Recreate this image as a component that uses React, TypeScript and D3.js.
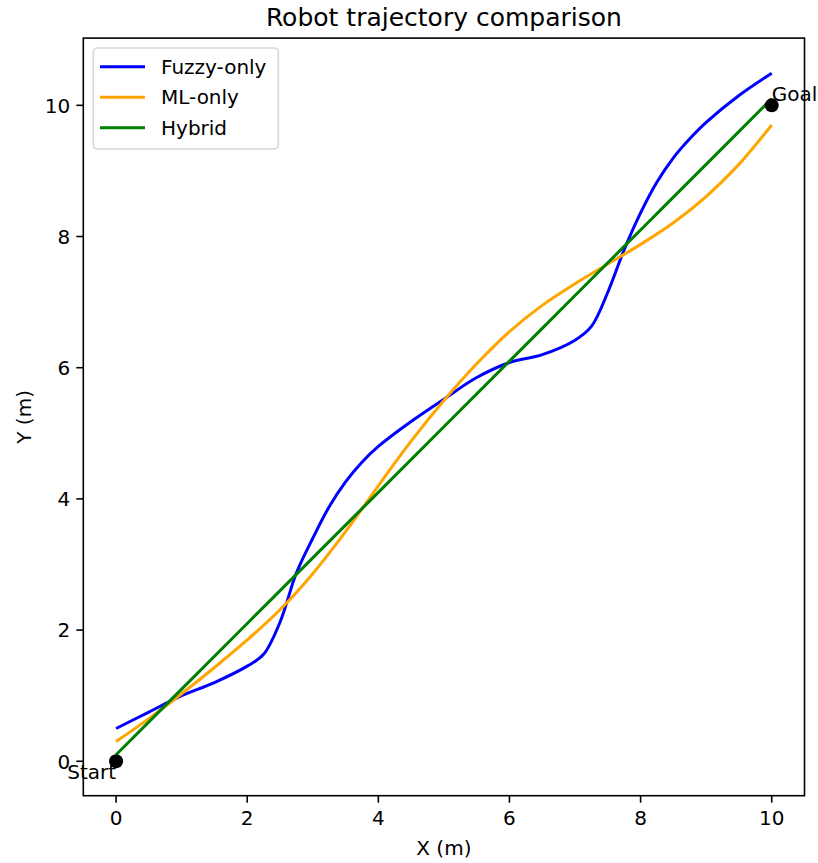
import React from 'react';
import * as d3 from 'd3';

const W = 818;
const H = 863;

const fuzzyX = [0, 0.5, 1, 1.5, 2, 2.25, 2.5, 2.75, 3, 3.25, 3.5, 3.75, 4, 4.5, 5, 5.5, 6, 6.5, 7, 7.25, 7.5, 7.75, 8, 8.25, 8.5, 8.75, 9, 9.5, 10];
const fuzzyY = [0.5, 0.75, 1.0, 1.2, 1.45, 1.63, 2.12, 2.87, 3.4, 3.88, 4.26, 4.56, 4.8, 5.18, 5.52, 5.85, 6.08, 6.2, 6.42, 6.63, 7.15, 7.8, 8.36, 8.83, 9.2, 9.49, 9.74, 10.15, 10.49];

const mlX = [0, 0.5, 1, 1.5, 2, 2.5, 3, 3.5, 4, 4.5, 5, 5.5, 6, 6.5, 7, 7.5, 8, 8.5, 9, 9.5, 10];
const mlY = [0.3, 0.65, 1.03, 1.43, 1.85, 2.31, 2.86, 3.5, 4.2, 4.88, 5.5, 6.06, 6.55, 6.95, 7.28, 7.58, 7.88, 8.21, 8.61, 9.1, 9.7];

const hybridX = [0, 1, 2, 3, 4, 5, 6, 7, 8, 9, 10];
const hybridY = [0.1, 1.1, 2.1, 3.1, 4.1, 5.1, 6.1, 7.1, 8.1, 9.1, 10.1];

const seriesNames = ['Fuzzy-only', 'ML-only', 'Hybrid'];
const seriesColors = ['#0000ff', '#ffa500', '#008000'];

const xTicks = [0, 2, 4, 6, 8, 10];
const yTicks = [0, 2, 4, 6, 8, 10];

const markerNames = ['Start', 'Goal'];
const markerX = [0, 10];
const markerY = [0, 10];

const FONT = 'DejaVu Sans, sans-serif';

export default function App() {
  const left = 83.3, right = 804.5, top = 38.1, bottom = 795.7;
  const x = d3.scaleLinear().domain([-0.5, 10.5]).range([left, right]);
  const y = d3.scaleLinear().domain([-0.525, 11.025]).range([bottom, top]);

  const line = d3
    .line<[number, number]>()
    .x((d) => x(d[0]))
    .y((d) => y(d[1]))
    .curve(d3.curveCatmullRom.alpha(0.5));

  const series = [
    fuzzyX.map((v, i) => [v, fuzzyY[i]] as [number, number]),
    mlX.map((v, i) => [v, mlY[i]] as [number, number]),
    hybridX.map((v, i) => [v, hybridY[i]] as [number, number]),
  ];

  const legX = 93.3, legY = 48, legW = 185, legH = 101;

  return (
    <svg
      width={W}
      height={H}
      viewBox={`0 0 ${W} ${H}`}
      style={{ position: 'absolute', left: 0, top: 0, background: '#fff', display: 'block' }}
      fontFamily={FONT}
    >
      <rect x={0} y={0} width={W} height={H} fill="#fff" />
      {series.map((pts, i) => (
        <path
          key={seriesNames[i]}
          d={line(pts) || ''}
          fill="none"
          stroke={seriesColors[i]}
          strokeWidth={3}
          strokeLinecap="butt"
        />
      ))}
      {markerNames.map((n, i) => (
        <circle key={n} cx={x(markerX[i])} cy={y(markerY[i])} r={7} fill="#000" />
      ))}
      <text x={x(markerX[0])} y={y(markerY[0]) + 17.7} fontSize={20} textAnchor="end" fill="#000">
        {markerNames[0]}
      </text>
      <text x={x(markerX[1])} y={y(markerY[1]) - 4.7} fontSize={20} textAnchor="start" fill="#000">
        {markerNames[1]}
      </text>

      <rect x={left} y={top} width={right - left} height={bottom - top} fill="none" stroke="#000" strokeWidth={1.6} />

      {xTicks.map((t) => (
        <g key={'x' + t}>
          <line x1={x(t)} x2={x(t)} y1={bottom} y2={bottom + 7} stroke="#000" strokeWidth={1.6} />
          <text x={x(t)} y={bottom + 29} fontSize={20} textAnchor="middle" fill="#000">
            {t}
          </text>
        </g>
      ))}
      {yTicks.map((t) => (
        <g key={'y' + t}>
          <line x1={left - 7} x2={left} y1={y(t)} y2={y(t)} stroke="#000" strokeWidth={1.6} />
          <text x={left - 13} y={y(t) + 7.3} fontSize={20} textAnchor="end" fill="#000">
            {t}
          </text>
        </g>
      ))}

      <text x={(left + right) / 2} y={855} fontSize={20} textAnchor="middle" fill="#000">
        X (m)
      </text>
      <text
        transform={`translate(31, ${(top + bottom) / 2}) rotate(-90)`}
        fontSize={20}
        textAnchor="middle"
        fill="#000"
      >
        Y (m)
      </text>
      <text x={(left + right) / 2} y={26} fontSize={25} textAnchor="middle" fill="#000">
        Robot trajectory comparison
      </text>

      <rect x={legX} y={legY} width={legW} height={legH} rx={4} ry={4} fill="#fff" fillOpacity={0.8} stroke="#d6d6d6" strokeWidth={1.6} />
      {seriesNames.map((n, i) => {
        const cy = 66.7 + i * 30.5;
        return (
          <g key={'leg' + n}>
            <line x1={101.5} x2={143.5} y1={cy} y2={cy} stroke={seriesColors[i]} strokeWidth={3} strokeLinecap="square" />
            <text x={161} y={cy + 7} fontSize={20} fill="#000">
              {n}
            </text>
          </g>
        );
      })}
    </svg>
  );
}
